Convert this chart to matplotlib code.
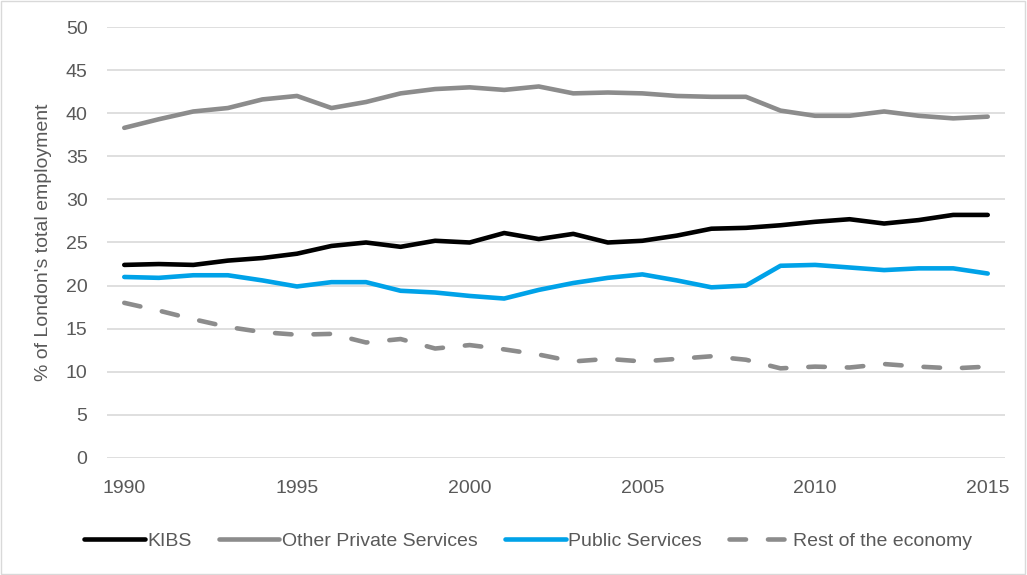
import matplotlib
matplotlib.use("Agg")
import matplotlib.pyplot as plt
from matplotlib.patches import Rectangle

plt.rcParams['font.family'] = ['Liberation Sans', 'DejaVu Sans']

years = list(range(1990, 2016))
kibs = [22.4, 22.5, 22.4, 22.9, 23.2, 23.7, 24.6, 25.0, 24.5, 25.2, 25.0, 26.1, 25.4,
        26.0, 25.0, 25.2, 25.8, 26.6, 26.7, 27.0, 27.4, 27.7, 27.2, 27.6, 28.2, 28.2]
other_private = [38.3, 39.3, 40.2, 40.6, 41.6, 42.0, 40.6, 41.3, 42.3, 42.8, 43.0, 42.7, 43.1,
                 42.3, 42.4, 42.3, 42.0, 41.9, 41.9, 40.3, 39.7, 39.7, 40.2, 39.7, 39.4, 39.6]
public = [21.0, 20.9, 21.2, 21.2, 20.6, 19.9, 20.4, 20.4, 19.4, 19.2, 18.8, 18.5, 19.5,
          20.3, 20.9, 21.3, 20.6, 19.8, 20.0, 22.3, 22.4, 22.1, 21.8, 22.0, 22.0, 21.4]
rest = [18.0, 17.1, 16.1, 15.2, 14.6, 14.3, 14.4, 13.4, 13.8, 12.7, 13.1, 12.6, 12.0,
        11.2, 11.5, 11.2, 11.5, 11.8, 11.4, 10.4, 10.6, 10.5, 10.9, 10.6, 10.4, 10.6]

fig = plt.figure(figsize=(10.27, 5.75), dpi=100)
# plot area: x 107..1005 px, y 27..458 px
ax = fig.add_axes([107 / 1027, 1 - 458 / 575, 898 / 1027, 431 / 575])

lw = 3.3
ax.plot(years, kibs, color='black', lw=lw, label='KIBS', solid_capstyle='round', solid_joinstyle='round')
ax.plot(years, other_private, color='#8c8c8c', lw=lw, label='Other Private Services',
        solid_capstyle='round', solid_joinstyle='round')
ax.plot(years, public, color='#00a2e8', lw=lw, label='Public Services',
        solid_capstyle='round', solid_joinstyle='round')
ax.plot(years, rest, color='#8c8c8c', lw=lw, label='Rest of the economy',
        dashes=(3.6, 4.8), dash_capstyle='round')

ax.set_xlim(1989.5, 2015.5)
ax.set_ylim(0, 50)
ax.set_yticks(range(0, 51, 5))
ax.set_xticks(range(1990, 2016, 5))
ax.grid(axis='y', color='#d9d9d9', lw=1.2)
ax.set_axisbelow(True)
for s in ax.spines.values():
    s.set_visible(False)
ax.tick_params(length=0, labelsize=14, labelcolor='#595959')
ax.tick_params(axis='y', pad=14)
ax.tick_params(axis='x', pad=16)
ax.set_ylabel("% of London's total employment", fontsize=14, color='#595959')
ax.yaxis.set_label_coords(-(107 - 52) / 898, 0.5)

fig.legend(*ax.get_legend_handles_labels(), loc='center', bbox_to_anchor=(528 / 1027, 1 - 541 / 575),
           ncol=4, frameon=False, fontsize=14, labelcolor='#595959', handlelength=3.1,
           handletextpad=0.15, columnspacing=1.4, borderaxespad=0)

fig.patches.append(Rectangle((0.001, 0.002), 0.997, 0.996, transform=fig.transFigure,
                             fill=False, edgecolor='#d9d9d9', lw=1))

fig.savefig('out.png', dpi=100)
